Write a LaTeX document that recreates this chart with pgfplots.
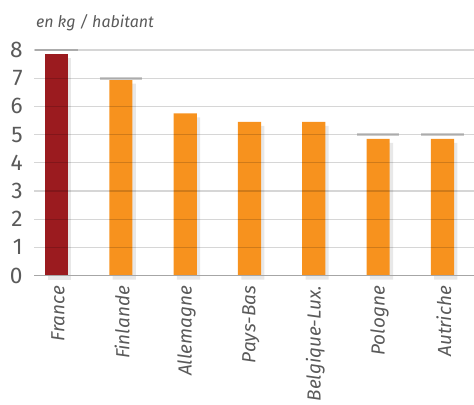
\documentclass[border=0pt]{standalone}
\usepackage{fontspec}
\setmainfont{Fira Sans}
\usepackage{pgfplots}
\pgfplotsset{compat=1.18}
\usetikzlibrary{calc,shadows}
\definecolor{rouge}{HTML}{9B1B1F}
\definecolor{orange}{HTML}{F7921E}
\definecolor{texte}{HTML}{5A5A5A}
\begin{document}
\begin{tikzpicture}
\begin{axis}[
  name=ax,
  width=330pt, height=169.2pt, scale only axis,
  xmin=-0.35, xmax=6.49,
  ymin=0, ymax=8,
  ybar, bar shift=0pt, bar width=0.36,
  axis on top,
  axis x line*=bottom, axis y line*=left,
  x axis line style={draw=gray!70, line width=1pt, -},
  y axis line style={draw=none},
  xtick={0,...,6},
  xticklabels={France,Finlande,Allemagne,Pays-Bas,Belgique-Lux.,Pologne,Autriche},
  xtick style={draw=none},
  ytick style={draw=none},
  xticklabel style={rotate=90, anchor=east, font=\fontsize{14.2}{14.2}\selectfont\itshape, text=texte, yshift=-1pt},
  ytick={0,...,8},
  yticklabel style={font=\fontsize{17}{17}\selectfont, text=texte, anchor=east, xshift=-5pt},
  ymajorgrids,
  grid style={draw=black, opacity=0.16, line width=1pt},
  /pgf/number format/assume math mode=true,
  clip=false,
]
\addplot[draw=none, fill=rouge, drop shadow={opacity=0.18, shadow xshift=2.5pt, shadow yshift=-3pt}] coordinates {(0,7.85)};
\addplot[draw=none, fill=orange, drop shadow={opacity=0.18, shadow xshift=2.5pt, shadow yshift=-3pt}] coordinates {
  (1,6.95) (2,5.75) (3,5.45) (4,5.45) (5,4.85) (6,4.85)};
% short grey caps above some bars
\addplot[sharp plot, draw=gray!40, line width=2pt, unbounded coords=jump] coordinates {
  (-0.33,8) (0.33,8) (0.5,nan) (0.67,7) (1.33,7) (1.5,nan)
  (4.67,5) (5.33,5) (5.5,nan) (5.67,5) (6.33,5)};
\node[anchor=base west, font=\fontsize{12}{12}\selectfont\itshape, text=texte]
  at ([xshift=-2pt, yshift=17pt]rel axis cs:0,1) {en kg / habitant};
\end{axis}
\pgfresetboundingbox
\path ($(ax.south west)+(-25.5pt,-97pt)$) rectangle ($(ax.south west)+(330pt,206.7pt)$);
\end{tikzpicture}
\end{document}
